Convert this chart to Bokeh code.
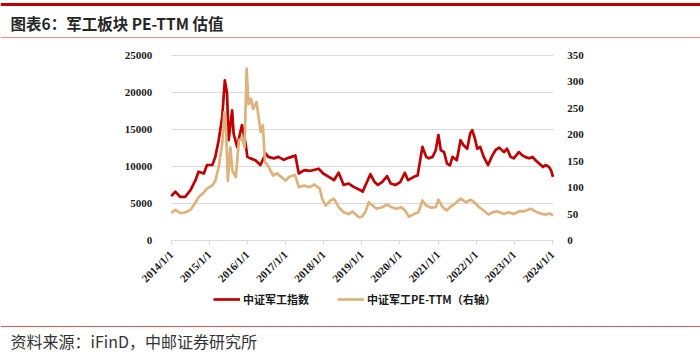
import pandas as pd
from bokeh.plotting import figure
from bokeh.models import (Range1d, LinearAxis, DatetimeAxis, FixedTicker,
                          CustomJSTickFormatter, Legend, LegendItem, Label, Span)
from bokeh.embed import file_html
from bokeh.resources import INLINE

# ---------------- data ----------------
idx_dates = [
    "2014-01-02", "2014-02-10", "2014-03-28", "2014-05-15", "2014-07-05", "2014-08-22",
    "2014-09-20", "2014-11-10", "2014-12-10", "2015-01-30", "2015-02-28", "2015-04-01",
    "2015-05-05", "2015-05-30", "2015-06-20", "2015-07-05", "2015-08-08", "2015-08-22",
    "2015-09-25", "2015-11-10", "2015-12-15", "2016-01-01", "2016-01-30", "2016-03-18",
    "2016-05-05", "2016-06-25", "2016-07-20", "2016-09-10", "2016-10-25", "2016-12-15",
    "2017-02-05", "2017-03-20", "2017-04-05", "2017-05-08", "2017-06-30", "2017-08-20",
    "2017-11-15", "2017-12-28", "2018-02-20", "2018-04-10", "2018-05-25", "2018-07-12",
    "2018-08-30", "2018-10-15", "2018-12-20", "2019-01-10", "2019-02-20", "2019-03-25",
    "2019-05-05", "2019-06-05", "2019-07-15", "2019-09-01", "2019-10-05", "2019-11-20",
    "2020-01-05", "2020-02-18", "2020-03-20", "2020-05-15", "2020-06-20", "2020-07-08",
    "2020-08-05", "2020-09-10", "2020-10-05", "2020-11-10", "2020-12-10", "2021-01-05",
    "2021-01-28", "2021-02-28", "2021-03-28", "2021-04-25", "2021-05-20", "2021-06-30",
    "2021-08-05", "2021-09-01", "2021-10-08", "2021-11-05", "2021-11-25", "2021-12-20",
    "2022-01-12", "2022-02-10", "2022-03-15", "2022-04-26", "2022-05-30", "2022-07-05",
    "2022-08-10", "2022-09-25", "2022-10-25", "2022-11-28", "2022-12-28", "2023-02-15",
    "2023-03-20", "2023-04-15", "2023-05-22", "2023-06-25", "2023-07-25", "2023-08-28",
    "2023-10-05", "2023-10-28", "2023-11-30", "2023-12-20", "2024-01-08",
]
idx_values = [
    6000, 6600, 5900, 5900, 6800, 8150,
    9300, 9050, 10200, 10200, 11300, 13550,
    16700, 21650, 19900, 13550, 17600, 14450,
    12650, 15600, 13100, 11300, 11100, 10850,
    10200, 11750, 11300, 11100, 11300, 10900,
    11200, 11400, 11500, 9050, 9500, 9400,
    9700, 9050, 8600, 8150, 9150, 7500,
    7700, 7250, 6800, 6600, 7900, 8950,
    7900, 7500, 7900, 8700, 7700, 7500,
    7900, 9150, 8150, 8600, 8800, 10350,
    12650, 11300, 11100, 11300, 12200, 14250,
    12200, 11950, 10400, 10150, 11300, 10850,
    13550, 12900, 12400, 14450, 14900, 13800,
    12400, 12650, 11300, 10200, 11300, 12200,
    12550, 11950, 12400, 11300, 11100, 11950,
    11500, 11300, 11100, 11300, 10850, 10400,
    9950, 10200, 9950, 9500, 8600,
]

pe_dates = [
    "2014-01-02", "2014-02-10", "2014-03-28", "2014-05-15", "2014-07-05", "2014-08-22",
    "2014-09-20", "2014-11-10", "2014-12-10", "2015-01-30", "2015-02-28", "2015-04-01",
    "2015-05-05", "2015-05-25", "2015-06-10", "2015-06-28", "2015-07-22", "2015-08-10",
    "2015-09-12", "2015-10-12", "2015-11-10", "2015-12-05", "2015-12-25", "2016-01-12",
    "2016-02-05", "2016-02-25", "2016-03-28", "2016-04-20", "2016-05-08", "2016-05-28",
    "2016-06-18", "2016-07-15", "2016-08-10", "2016-09-05", "2016-10-10", "2016-12-31",
    "2017-02-10", "2017-04-01", "2017-05-08", "2017-06-30", "2017-08-20", "2017-10-05",
    "2017-11-25", "2017-12-18", "2018-01-20", "2018-03-08", "2018-04-10", "2018-05-25",
    "2018-07-12", "2018-08-30", "2018-10-05", "2018-11-15", "2018-12-05", "2019-01-02",
    "2019-02-05", "2019-03-10", "2019-04-15", "2019-05-25", "2019-07-15", "2019-09-01",
    "2019-10-15", "2019-12-01", "2020-01-15", "2020-02-20", "2020-03-28", "2020-05-15",
    "2020-06-28", "2020-08-05", "2020-09-10", "2020-10-28", "2020-12-10", "2021-01-05",
    "2021-02-15", "2021-03-25", "2021-04-25", "2021-06-10", "2021-08-05", "2021-09-25",
    "2021-11-10", "2021-12-15", "2022-01-28", "2022-03-15", "2022-04-28", "2022-06-10",
    "2022-07-28", "2022-09-25", "2022-11-10", "2022-12-28", "2023-02-15", "2023-04-01",
    "2023-06-08", "2023-07-25", "2023-09-10", "2023-10-25", "2023-12-10", "2024-01-08",
]
pe_values = [
    52, 58, 52, 53, 58, 72,
    82, 91, 98, 104, 113, 139,
    183, 243, 214, 113, 176, 132,
    120, 189, 195, 176, 325, 258,
    268, 249, 262, 230, 205, 218,
    148, 142, 132, 123, 127, 113.5,
    121, 124, 101, 104, 101, 106,
    98, 79, 66, 75.7, 79, 63,
    53.6, 50, 55, 47, 44, 45,
    53.6, 72.5, 66, 60, 63, 68,
    63, 60, 63, 57, 45, 50,
    53.6, 75.7, 66, 62, 63, 77,
    63, 57, 63, 69.4, 79, 72.5,
    77, 72.5, 63, 57, 49, 53.6,
    55, 50, 53.6, 50, 55, 55,
    60, 55, 51, 49, 51, 47,
]

x_ticks = ["2014-01-01", "2015-01-01", "2016-01-01", "2017-01-01", "2018-01-01",
           "2019-01-01", "2020-01-01", "2021-01-01", "2022-01-01", "2023-01-01",
           "2024-01-01"]
left_ticks = [0, 5000, 10000, 15000, 20000, 25000]
right_ticks = [0, 50, 100, 150, 200, 250, 300, 350]
x_start, x_end = "2014-01-01", "2024-01-10"

title_text = "图表6：军工板块 PE-TTM 估值"
source_text = "资料来源：iFinD，中邮证券研究所"
idx_name = "中证军工指数"
pe_name = "中证军工PE-TTM（右轴）"

RED = "#C00000"
TAN = "#DDB27C"
GRID = "#D9D9D9"
TXT = "#1a1a1a"

# ---------------- canvas geometry (pixels from top-left) ----------------
W, H = 700, 358
PX_X0, PX_X1 = 170.7, 552.7     # x_start, x_end
PX_Y0, PX_Y1 = 240.0, 55.0      # value 0, top tick


def ms(s):
    return pd.Timestamp(s).value // 10**6


ms0, ms1 = ms(x_start), ms(x_end)
ms_pp = (ms1 - ms0) / (PX_X1 - PX_X0)
L_TOP, R_TOP = left_ticks[-1], right_ticks[-1]
l_pp = L_TOP / (PX_Y0 - PX_Y1)
r_pp = R_TOP / (PX_Y0 - PX_Y1)


def xd(px):
    return ms0 + (px - PX_X0) * ms_pp


def yd(py):
    return (PX_Y0 - py) * l_pp


p = figure(width=W, height=H, title=None,
           x_range=Range1d(xd(0), xd(W)), y_range=Range1d(yd(H), yd(0)),
           x_axis_location=None, y_axis_location=None,
           output_backend="svg", toolbar_location=None, min_border=0)
p.outline_line_color = None
p.grid.visible = False
p.extra_y_ranges = {"pe": Range1d((PX_Y0 - H) * r_pp, PX_Y0 * r_pp)}

# horizontal gridlines over the plotting span
p.segment(x0=[ms0] * len(left_ticks), x1=[ms1] * len(left_ticks),
          y0=left_ticks, y1=left_ticks, line_color=GRID, line_width=1)

# series
r_idx = p.line(pd.to_datetime(idx_dates), idx_values, line_color=RED,
               line_width=2.7, line_join="round")
r_pe = p.line(pd.to_datetime(pe_dates), pe_values, line_color=TAN,
              line_width=2.7, line_join="round", y_range_name="pe")

# x axis (at value 0)
xa = DatetimeAxis(fixed_location=0, bounds=(ms0, ms1),
                  ticker=FixedTicker(ticks=[ms(t) for t in x_ticks]))
xa.formatter = CustomJSTickFormatter(code="""
const d = new Date(tick);
return d.getUTCFullYear() + '/' + (d.getUTCMonth() + 1) + '/' + d.getUTCDate();
""")
xa.major_label_orientation = 0.785398
xa.axis_line_color = GRID
xa.major_tick_line_color = GRID
xa.major_tick_out = 4
xa.major_tick_in = 0
xa.minor_tick_line_color = None
xa.major_label_text_font = "Liberation Serif"
xa.major_label_text_font_style = "bold"
xa.major_label_text_font_size = "11px"
xa.major_label_text_color = TXT
xa.major_label_standoff = 8
p.add_layout(xa, "below")

# left axis
ya = LinearAxis(fixed_location=ms0, bounds=(0, L_TOP), ticker=FixedTicker(ticks=left_ticks))
ya.axis_line_color = None
ya.major_tick_line_color = None
ya.minor_tick_line_color = None
ya.major_label_text_font = "Liberation Serif"
ya.major_label_text_font_style = "bold"
ya.major_label_text_font_size = "11px"
ya.major_label_text_color = TXT
ya.major_label_standoff = 13
p.add_layout(ya, "left")

# right axis
ra = LinearAxis(y_range_name="pe", fixed_location=ms1, bounds=(0, R_TOP),
                ticker=FixedTicker(ticks=right_ticks))
ra.axis_line_color = None
ra.major_tick_line_color = None
ra.minor_tick_line_color = None
ra.major_label_text_font = "Liberation Serif"
ra.major_label_text_font_style = "bold"
ra.major_label_text_font_size = "11px"
ra.major_label_text_color = TXT
ra.major_label_standoff = 8
p.add_layout(ra, "right")

# legend below the axis
legend = Legend(items=[LegendItem(label=idx_name, renderers=[r_idx]),
                       LegendItem(label=pe_name, renderers=[r_pe])],
                location=(213, H - 307), orientation="horizontal",
                glyph_width=27, glyph_height=12, label_height=12,
                label_standoff=3, spacing=28, padding=0, margin=0,
                border_line_color=None, background_fill_alpha=0,
                label_text_font="Noto Sans CJK SC", label_text_font_style="bold",
                label_text_font_size="11px", label_text_color=TXT)
p.add_layout(legend)

# header / footer decorations
p.add_layout(Span(location=yd(4), dimension="width", line_color=RED, line_width=3))
p.add_layout(Span(location=yd(37), dimension="width", line_color="#E98A8A", line_width=1))
p.add_layout(Span(location=yd(326), dimension="width", line_color="#E05A5A", line_width=1))
p.add_layout(Label(x=xd(10), y=yd(22), text=title_text, text_font="Noto Sans CJK SC",
                   text_font_style="bold", text_font_size="15.5px",
                   text_baseline="middle", text_color="#262626"))
p.add_layout(Label(x=xd(10), y=yd(340), text=source_text, text_font="Noto Sans CJK SC",
                   text_font_size="16px", text_baseline="middle", text_color="#333333"))

open("out.html", "w").write(file_html(p, INLINE))
